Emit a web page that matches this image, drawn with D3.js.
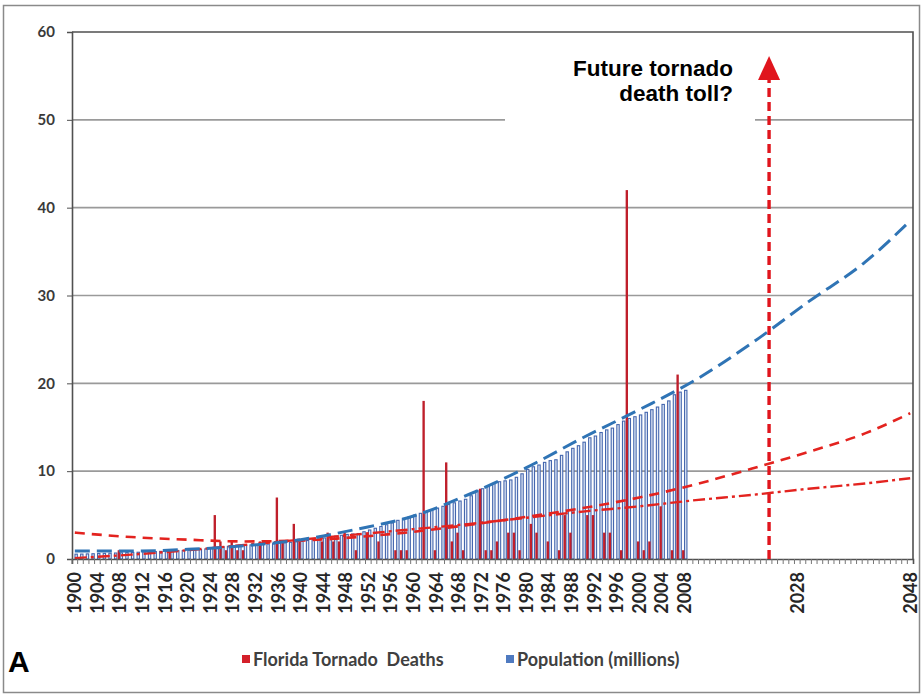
<!DOCTYPE html>
<html>
<head>
<meta charset="utf-8">
<script src="https://cdn.jsdelivr.net/npm/d3@7/dist/d3.min.js"></script>
<style>
  html, body { margin: 0; padding: 0; background: #fff; }
  svg { display: block; }
</style>
</head>
<body>
<svg id="chart" width="923" height="696"></svg>
<script>
// ---------------- DATA ----------------
const categories = d3.range(1900, 2049);           // yearly categories 1900..2048
const xTickLabels = [1900,1904,1908,1912,1916,1920,1924,1928,1932,1936,1940,1944,1948,1952,1956,
  1960,1964,1968,1972,1976,1980,1984,1988,1992,1996,2000,2004,2008,2028,2048];
const yTickValues = [0,10,20,30,40,50,60];

const dataYears = d3.range(1900, 2009);
// Florida tornado deaths per year 1900..2008
const deaths = [
  0,0,0,0,0,0,0,0,1,0,   // 1900s
  0,0,0,0,0,0,0,1,0,0,   // 1910s
  0,0,0,0,0,5,2,1,2,1,   // 1920s
  1,0,0,2,0,0,7,2,0,4,   // 1930s
  2,0,0,0,2,3,2,2,3,0,   // 1940s
  1,0,3,0,2,0,0,1,1,1,   // 1950s
  0,0,18,0,1,0,11,2,3,1, // 1960s
  0,0,8,1,1,2,0,3,3,1,   // 1970s
  0,4,3,0,2,0,1,5,3,0,   // 1980s
  0,5,5,0,3,3,0,1,42,0,  // 1990s
  2,1,2,0,6,0,1,21,1     // 2000s
];
// Population (millions) per year 1900..2008
const population = [
  0.55,0.56,0.58,0.60,0.62,0.64,0.66,0.68,0.70,0.73,
  0.75,0.77,0.80,0.82,0.85,0.87,0.90,0.92,0.95,0.97,
  1.00,1.05,1.10,1.15,1.20,1.30,1.40,1.45,1.50,1.55,
  1.55,1.60,1.62,1.65,1.70,1.75,1.80,1.85,1.90,1.95,
  2.00,2.10,2.20,2.30,2.40,2.50,2.60,2.70,2.80,2.85,
  2.90,3.10,3.30,3.50,3.70,3.90,4.10,4.40,4.60,4.80,
  5.00,5.20,5.40,5.60,5.80,6.00,6.20,6.40,6.60,6.80,
  7.20,7.80,8.00,8.30,8.60,8.80,8.90,9.00,9.30,9.70,
  10.2,10.5,10.7,11.0,11.2,11.3,11.8,12.2,12.6,12.9,
  13.3,13.8,14.0,14.4,14.7,14.9,15.3,15.7,16.0,16.2,
  16.4,16.7,17.0,17.3,17.6,18.0,18.7,19.0,19.2
];

// trendlines (at these years)
const trendYears        = [1900,1910,1920,1930,1940,1950,1960,1970,1980,1990,2000,2010,2020,2030,2040,2048];
const popTrend          = [0.9,0.9,1.1,1.5,2.2,3.4,4.9,7.4,10.4,13.8,17.0,20.4,24.6,29.3,33.8,38.5];
const deathsPolyTrend   = [3.0,2.5,2.2,2.0,2.1,2.5,3.1,3.9,4.8,5.8,7.0,8.5,10.3,12.2,14.3,16.6];
const deathsPowerTrend  = [0.1,0.5,1.0,1.6,2.2,2.8,3.4,4.0,4.7,5.4,6.0,6.7,7.3,8.0,8.6,9.2];

const arrowYear = 2023;

// ---------------- CHART ----------------
const svg = d3.select("#chart");
const W = 923, H = 696;
const plot = {left: 72, right: 913, top: 32, bottom: 559};

const x = d3.scaleBand().domain(categories).range([plot.left, plot.right]).paddingInner(0).paddingOuter(0);
const xSub = d3.scaleBand().domain(["deaths","pop"]).range([0.5, x.bandwidth() - 0.3]).paddingInner(0.05);
const y = d3.scaleLinear().domain([0, 60]).range([plot.bottom, plot.top]);

// outer frame
svg.append("rect").attr("x", 3.5).attr("y", 5.5).attr("width", W - 7).attr("height", H - 9)
  .attr("fill", "#fff").attr("stroke", "#8a8a8a").attr("stroke-width", 1.5);

// gridlines
svg.append("g").selectAll("line").data(yTickValues.filter(v => v > 0 && v < 60)).join("line")
  .attr("x1", plot.left).attr("x2", plot.right)
  .attr("y1", d => y(d)).attr("y2", d => y(d))
  .attr("stroke", "#9a9a9a").attr("stroke-width", 1.6);

// white box behind annotation text (hides part of 50 gridline)
svg.append("rect").attr("x", 505).attr("y", 50).attr("width", 250).attr("height", 76).attr("fill", "#fff");

// population bars
svg.append("g").selectAll("rect").data(dataYears.map((yr, i) => ({yr, v: population[i]}))).join("rect")
  .attr("x", d => x(d.yr) + xSub("pop"))
  .attr("y", d => y(d.v))
  .attr("width", xSub.bandwidth())
  .attr("height", d => y(0) - y(d.v))
  .attr("fill", "#e6edf8").attr("stroke", "#4466ae").attr("stroke-width", 1.1);

// deaths bars
svg.append("g").selectAll("rect").data(dataYears.map((yr, i) => ({yr, v: deaths[i]})).filter(d => d.v > 0)).join("rect")
  .attr("x", d => x(d.yr) + xSub("deaths"))
  .attr("y", d => y(d.v))
  .attr("width", xSub.bandwidth())
  .attr("height", d => y(0) - y(d.v))
  .attr("fill", "#bf1f2b");

// trendlines
const cx = yr => x(yr) + x.bandwidth() / 2;
const line = d3.line().x((d, i) => cx(trendYears[i])).y(d => y(d)).curve(d3.curveMonotoneX);
svg.append("path").attr("d", line(deathsPowerTrend)).attr("fill", "none")
  .attr("stroke", "#e3231f").attr("stroke-width", 2.4).attr("stroke-dasharray", "12,4,3,4");
svg.append("path").attr("d", line(deathsPolyTrend)).attr("fill", "none")
  .attr("stroke", "#e3231f").attr("stroke-width", 2.6).attr("stroke-dasharray", "10,7");
svg.append("path").attr("d", line(popTrend)).attr("fill", "none")
  .attr("stroke", "#2f74b5").attr("stroke-width", 3).attr("stroke-dasharray", "15,7");

// plot border (top + right)
svg.append("path")
  .attr("d", `M${plot.left},${plot.top}H${plot.right}V${plot.bottom}`)
  .attr("fill", "none").attr("stroke", "#505050").attr("stroke-width", 1.6);

// y axis
const yAxis = svg.append("g").attr("transform", `translate(${plot.left},0)`)
  .call(d3.axisLeft(y).tickValues(yTickValues).tickSize(5).tickPadding(12).tickFormat(d3.format("d")));
yAxis.select(".domain").attr("stroke", "#505050").attr("stroke-width", 1.6);
yAxis.selectAll(".tick line").attr("stroke", "#505050");
yAxis.selectAll("text").attr("font-family", "Lato, 'DejaVu Sans', sans-serif").attr("font-weight", "bold")
  .attr("font-size", 15).attr("fill", "#3a3a3a");

// x axis
const labelSet = new Set(xTickLabels);
const xAxis = svg.append("g").attr("transform", `translate(0,${plot.bottom})`)
  .call(d3.axisBottom(x).tickValues(categories).tickSize(5).tickFormat(d => labelSet.has(d) ? String(d) : ""));
xAxis.select(".domain").attr("stroke", "#505050").attr("stroke-width", 1.6);
xAxis.selectAll(".tick line").attr("stroke", "#777").attr("transform", `translate(${-x.bandwidth()/2},0)`);
xAxis.selectAll("text")
  .attr("transform", "rotate(-90)")
  .attr("x", -13).attr("y", 0).attr("dy", "0.36em")
  .style("text-anchor", "end")
  .attr("font-family", "Lato, 'DejaVu Sans', sans-serif").attr("font-weight", "bold")
  .attr("font-size", 18).attr("fill", "#262626");

// arrow
const ax = cx(arrowYear);
svg.append("line").attr("x1", ax).attr("x2", ax).attr("y1", y(0)).attr("y2", 76)
  .attr("stroke", "#e0151d").attr("stroke-width", 3.4).attr("stroke-dasharray", "9,5");
svg.append("path").attr("d", `M${ax},56L${ax - 11},80L${ax + 11},80Z`).attr("fill", "#e0151d");

// annotation
const ann = svg.append("text").attr("font-family", "'Liberation Sans', Arial, sans-serif")
  .attr("font-weight", "bold").attr("font-size", 22.5).attr("fill", "#000").attr("text-anchor", "end");
ann.append("tspan").attr("x", 733).attr("y", 76).text("Future tornado");
ann.append("tspan").attr("x", 733).attr("y", 101).text("death toll?");

// legend
const legend = svg.append("g").attr("font-family", "Lato, 'DejaVu Sans', sans-serif")
  .attr("font-weight", "bold").attr("font-size", 18).attr("fill", "#404040");
legend.append("rect").attr("x", 242).attr("y", 655).attr("width", 8).attr("height", 8).attr("fill", "#d4202a");
legend.append("text").attr("x", 253).attr("y", 666).text("Florida Tornado  Deaths").style("white-space", "pre");
legend.append("rect").attr("x", 506).attr("y", 655).attr("width", 8).attr("height", 8).attr("fill", "#4f7ac0");
legend.append("text").attr("x", 517).attr("y", 666).text("Population (millions)");

// panel letter
svg.append("text").attr("x", 8).attr("y", 672).attr("font-family", "'Liberation Sans', Arial, sans-serif")
  .attr("font-weight", "bold").attr("font-size", 30).attr("fill", "#000").text("A");
</script>
</body>
</html>
